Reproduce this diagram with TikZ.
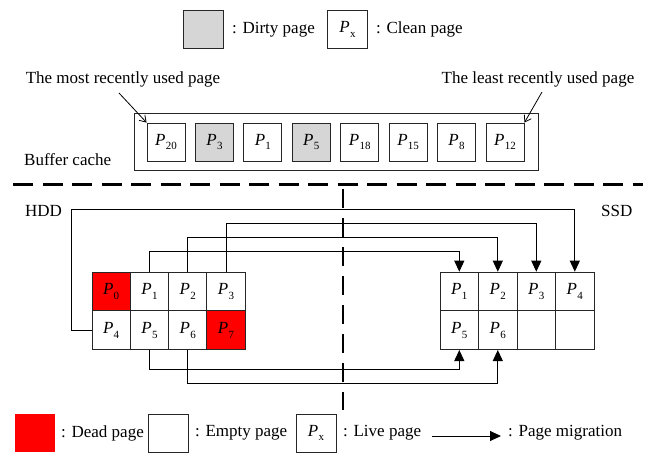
\documentclass[tikz,border=0pt]{standalone}
\usepackage{fontspec}
\setmainfont{Liberation Serif}
\usetikzlibrary{arrows.meta,calc}
\newcommand{\pg}[1]{\textit{P}\kern0.3pt\raisebox{-0.28em}{\fontsize{11}{12}\selectfont #1}}
\begin{document}
\begin{tikzpicture}[x=1pt,y=-1pt,
  every node/.style={font=\fontsize{17}{20}\selectfont},
  cell/.style={draw=black!85, line width=0.9pt, minimum width=38.3pt, minimum height=38.7pt, inner sep=0pt},
  cbox/.style={draw=black!85, line width=0.9pt, minimum width=38pt, minimum height=38pt, inner sep=0pt},
  lbox/.style={draw=black!85, line width=0.9pt, minimum width=40pt, minimum height=38pt, inner sep=0pt},
  dead/.style={fill=red},
  dirty/.style={fill=black!16},
  txt/.style={inner sep=0pt, anchor=west},
  mig/.style={line width=0.9pt, -{Triangle[length=11pt,width=10pt]}},
  sep/.style={line width=2.2pt, dash pattern=on 20pt off 9.5pt},
  ptr/.style={line width=0.8pt, -{Straight Barb[length=6pt,width=8pt]}}
  ]
\useasboundingbox (0,0) rectangle (654,456);

% top legend
\node[lbox,dirty] (lgd) at (203,29.5) {};
\node[txt] (lgdt) at (232,29.5) {: Dirty page};
\node[lbox] (lgc) at (347.5,29.5) {\pg{x}};
\node[txt] (lgct) at (376,29.5) {: Clean page};

% labels
\node (mru) at (123,79) {The most recently used page};
\node (lru) at (538,79) {The least recently used page};
\node[txt] (bc) at (24,160) {Buffer cache};

% buffer cache
\node[draw=black!85, line width=0.9pt, minimum width=404pt, minimum height=57pt, inner sep=0pt] (cache) at (336,141.5) {};
\foreach \i/\t/\s in {0/20/,1/3/dirty,2/1/,3/5/dirty,4/18/,5/15/,6/8/,7/12/} {
  \node[cbox,\s] (c\i) at ({166+48.43*\i},142) {\pg{\t}};
}
\coordinate (mrus) at (119,93);
\coordinate (lrus) at (542,92);
\draw[ptr] (mrus) -- (c0.north west);
\draw[ptr] (lrus) -- (c7.north east);

% separators
\coordinate (hl) at (13,184.5);
\coordinate (hr) at (643,184.5);
\draw[sep] (hl) -- (hr);
\coordinate (vt) at (342.7,189);
\coordinate (vb) at (342.7,410);
\draw[line width=2.2pt, dash pattern=on 19pt off 10pt] (vt) -- (vb);

\node[txt] (hdd) at (25,211) {HDD};
\node[txt] (ssd) at (601,211) {SSD};

% HDD grid
\foreach \i/\t/\s in {0/0/dead,1/1/,2/2/,3/3/} {
  \node[cell,\s] (h\i) at ({111.15+38.3*\i},291.5) {\pg{\t}};
}
\foreach \i/\t/\s in {4/4/,5/5/,6/6/,7/7/dead} {
  \node[cell,\s] (h\i) at ({111.15+38.3*(\i-4)},330.2) {\pg{\t}};
}
% SSD grid
\foreach \i/\t in {0/1,1/2,2/3,3/4} {
  \node[cell] (s\i) at ({459.3+38.5*\i},291.5) {\pg{\t}};
}
\foreach \i/\t in {4/5,5/6,6/,7/} {
  \node[cell] (s\i) at ({459.3+38.5*(\i-4)},330.2) {\ifx\t\empty\else\pg{\t}\fi};
}

% migrations
\draw[mig] (h4.west) -- ++(-20,0) -- ++(0,-121.2) -| (s3.north);
\draw[mig] (h3.north) -- ++(0,-48) -| (s2.north);
\draw[mig] (h2.north) -- ++(0,-34) -| (s1.north);
\draw[mig] (h1.north) -- ++(0,-20) -| (s0.north);
\draw[mig] (h5.south) -- ++(0,19) -| (s4.south);
\draw[mig] (h6.south) -- ++(0,33) -| (s5.south);

% bottom legend
\node[lbox,dead,draw=none] (ldead) at (34.5,433) {};
\node[txt] (ldeadt) at (61,433) {: Dead page};
\node[lbox] (lempty) at (168,433) {};
\node[txt] (lemptyt) at (195,433) {: Empty page};
\node[lbox] (llive) at (316,433) {\pg{x}};
\node[txt] (llivet) at (343,433) {: Live page};
\coordinate (ma) at (432,436);
\coordinate (mb) at (501,436);
\draw[mig] (ma) -- (mb);
\node[txt] (lmigt) at (508,433) {: Page migration};
\end{tikzpicture}
\end{document}
